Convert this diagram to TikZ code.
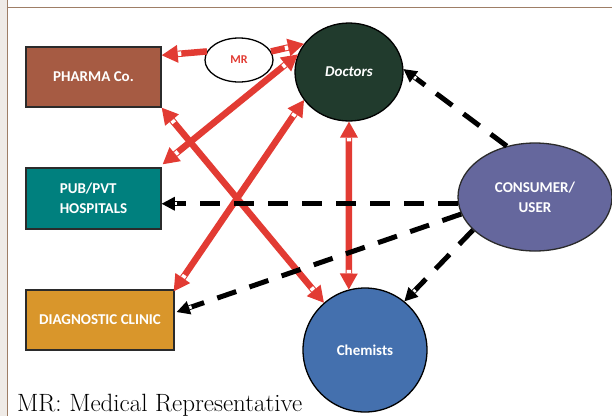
\documentclass[tikz,border=0pt]{standalone}
\usepackage{fontspec}
\newfontfamily\calfont{Carlito}
\usetikzlibrary{arrows.meta,shapes.geometric,decorations.markings,calc}
\definecolor{pharmac}{HTML}{A65B43}
\definecolor{hospc}{HTML}{00807E}
\definecolor{diagc}{HTML}{D9962B}
\definecolor{docc}{HTML}{213B2D}
\definecolor{consc}{HTML}{65679D}
\definecolor{chemc}{HTML}{4470AE}
\definecolor{arrred}{HTML}{E23B33}
\definecolor{boxline}{HTML}{2B2B2B}
\definecolor{framebrown}{HTML}{9E7E66}
\definecolor{framegray}{HTML}{EFEBE7}
\tikzset{
  rt/.tip={Triangle[width=18pt,length=16pt,line width=0pt]},
  bt/.tip={Triangle[width=14pt,length=13pt,line width=0pt]},
  lab/.style={font=\calfont\bfseries\fontsize{15}{20}\selectfont, text=white},
  box/.style={lab, draw=boxline, line width=1.5pt, inner sep=0pt},
  oval/.style={lab, ellipse, inner sep=0pt, line width=1.3pt},
  redarr/.style={draw=arrred, line width=6.5pt},
  notchend/.style={postaction={decorate, decoration={markings,
     mark=at position -18pt with {\fill[white] (-1.6pt,-2.2pt) rectangle (1.6pt,2.2pt);}}}},
  notchstart/.style={postaction={decorate, decoration={markings,
     mark=at position 18pt with {\fill[white] (-1.6pt,-2.2pt) rectangle (1.6pt,2.2pt);}}}},
  redboth/.style={redarr, rt-rt, notchstart, notchend},
  redone/.style={redarr, -rt, notchend},
  blackarr/.style={draw=black, line width=5pt, dash pattern=on 20pt off 14pt, -bt,
     postaction={decorate, decoration={markings,
     mark=at position -14.5pt with {\fill[white] (-1.2pt,-1.6pt) rectangle (1.2pt,1.6pt);}}}},
}
\begin{document}
\begin{tikzpicture}[x=1pt,y=1pt]
\useasboundingbox (0,0) rectangle (612,-416);
% frame
\fill[framegray] (0,0) rectangle (6.7,-416);
\draw[framebrown, line width=1.7pt] (7.5,0) -- (7.5,-416);
\draw[framebrown, line width=1.7pt] (7.5,-7.5) -- (612,-7.5);

% nodes
\node[box, fill=pharmac, minimum width=135pt, minimum height=60pt] (pharma) at (93.5,-77) {PHARMA Co.};
\node[box, fill=hospc, minimum width=135pt, minimum height=61pt, align=left] (hosp) at (93.5,-198.5) {PUB/PVT\\HOSPITALS};
\node[box, fill=diagc, minimum width=148pt, minimum height=60pt] (diag) at (100,-320) {DIAGNOSTIC CLINIC};
\node[oval, draw=black, fill=white, text=arrred, font=\calfont\bfseries\fontsize{12}{14}\selectfont,
      minimum width=68pt, minimum height=44pt] (mr) at (239,-60) {MR};
\node[oval, draw=black, fill=docc, font=\calfont\bfseries\itshape\fontsize{15}{20}\selectfont,
      minimum width=108pt, minimum height=98pt] (doc) at (349,-72) {\raisebox{-1.5pt}{Doctors}};
\node[oval, draw=boxline, fill=consc, align=center, minimum width=154pt, minimum height=108pt] (cons) at (535,-197) {CONSUMER/\\USER};
\node[oval, draw=black, fill=chemc, minimum width=124pt, minimum height=124pt] (chem) at (365,-350) {Chemists};

% red arrows
\draw[redone] (mr.165) -- ($(pharma.north east)+(0,-9)$);
\draw[redone] (mr.15) -- (doc.148);
\draw[redboth] (pharma.south east) -- (chem.131);
\draw[redboth] ($(hosp.north east)+(1,3)$) -- (doc.161);
\draw[redboth] ($(diag.north east)+(-1,-2)$) -- (doc.212);
\draw[redboth] (doc.south) -- (chem.105);

% black dashed arrows
\draw[blackarr] (cons.119) -- (doc.3);
\draw[blackarr] (cons.185) -- (hosp.east |- cons.185);
\draw[blackarr] (cons.193) -- ($(diag.east)+(2,8)$);
\draw[blackarr] (cons.208) -- (chem.51);

% legend
\node[anchor=base west, inner sep=0pt, font=\fontsize{25}{30}\selectfont] (legend) at (17,-411) {MR: Medical Representative};
\end{tikzpicture}
\end{document}
